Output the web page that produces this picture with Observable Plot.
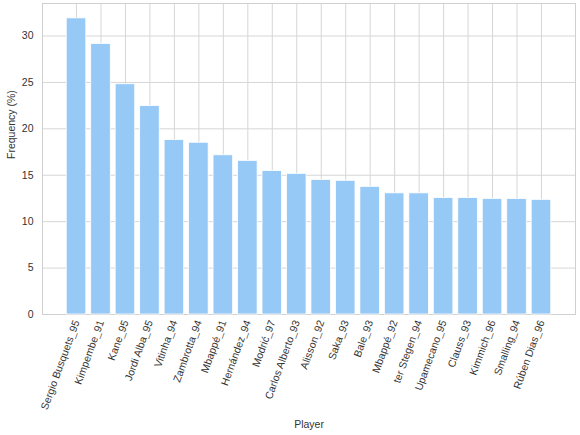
<!DOCTYPE html>
<html>
<head>
<meta charset="utf-8">
<script src="https://cdn.jsdelivr.net/npm/d3@7"></script>
<script src="https://cdn.jsdelivr.net/npm/@observablehq/plot@0.6"></script>
<style>
  html, body { margin: 0; padding: 0; background: #fff; }
  svg { font-family: "Liberation Sans", Arial, sans-serif; }
</style>
</head>
<body>
<div id="chart"></div>
<script>
const players = ["Sergio Busquets_95", "Kimpembe_91", "Kane_95", "Jordi Alba_95", "Vitinha_94",
  "Zambrotta_94", "Mbappé_91", "Hernández_94", "Modrić_97", "Carlos Alberto_93",
  "Alisson_92", "Saka_93", "Bale_93", "Mbappé_92", "ter Stegen_94",
  "Upamecano_95", "Clauss_93", "Kimmich_96", "Smalling_94", "Rúben Dias_96"];
const frequency = [31.9, 29.15, 24.8, 22.45, 18.8, 18.5, 17.15, 16.55, 15.45, 15.15,
  14.5, 14.4, 13.75, 13.05, 13.05, 12.55, 12.55, 12.45, 12.45, 12.35];
const yTicks = [0, 5, 10, 15, 20, 25, 30];

const data = players.map((p, i) => ({player: p, freq: frequency[i]}));

const chart = Plot.plot({
  width: 580,
  height: 435,
  marginLeft: 42,
  marginRight: 5,
  marginTop: 3,
  marginBottom: 121,
  style: {fontFamily: "'Liberation Sans', Arial, sans-serif", fontSize: "10.5px", color: "#333", background: "#fff"},
  x: {
    type: "band",
    domain: players,
    paddingInner: 0.2,
    paddingOuter: 0.99,
    round: false,
    label: null
  },
  y: {
    domain: [0, 33.5],
    label: null
  },
  marks: [
    Plot.gridX(players, {stroke: "#d6d6d6", strokeOpacity: 1, strokeWidth: 1}),
    Plot.gridY(yTicks, {stroke: "#d6d6d6", strokeOpacity: 1, strokeWidth: 1}),
    Plot.frame({stroke: "#d0d0d0", strokeWidth: 1}),
    Plot.barY(data, {x: "player", y: "freq", fill: "#97c9f6", stroke: "#ffffff", strokeWidth: 0.8}),
    Plot.axisX({tickRotate: -70, tickSize: 0, tickPadding: 6, fontSize: 10.5, label: null}),
    Plot.axisY(yTicks, {tickSize: 0, tickPadding: 9, fontSize: 10.5, label: null}),
    Plot.text(["Frequency (%)"], {frameAnchor: "left", dx: -31, rotate: -90, fontSize: 10.5, fill: "#333"}),
    Plot.text(["Player"], {frameAnchor: "bottom", dy: 113, fontSize: 10.5, fill: "#333"})
  ]
});
document.getElementById("chart").appendChild(chart);
</script>
</body>
</html>
